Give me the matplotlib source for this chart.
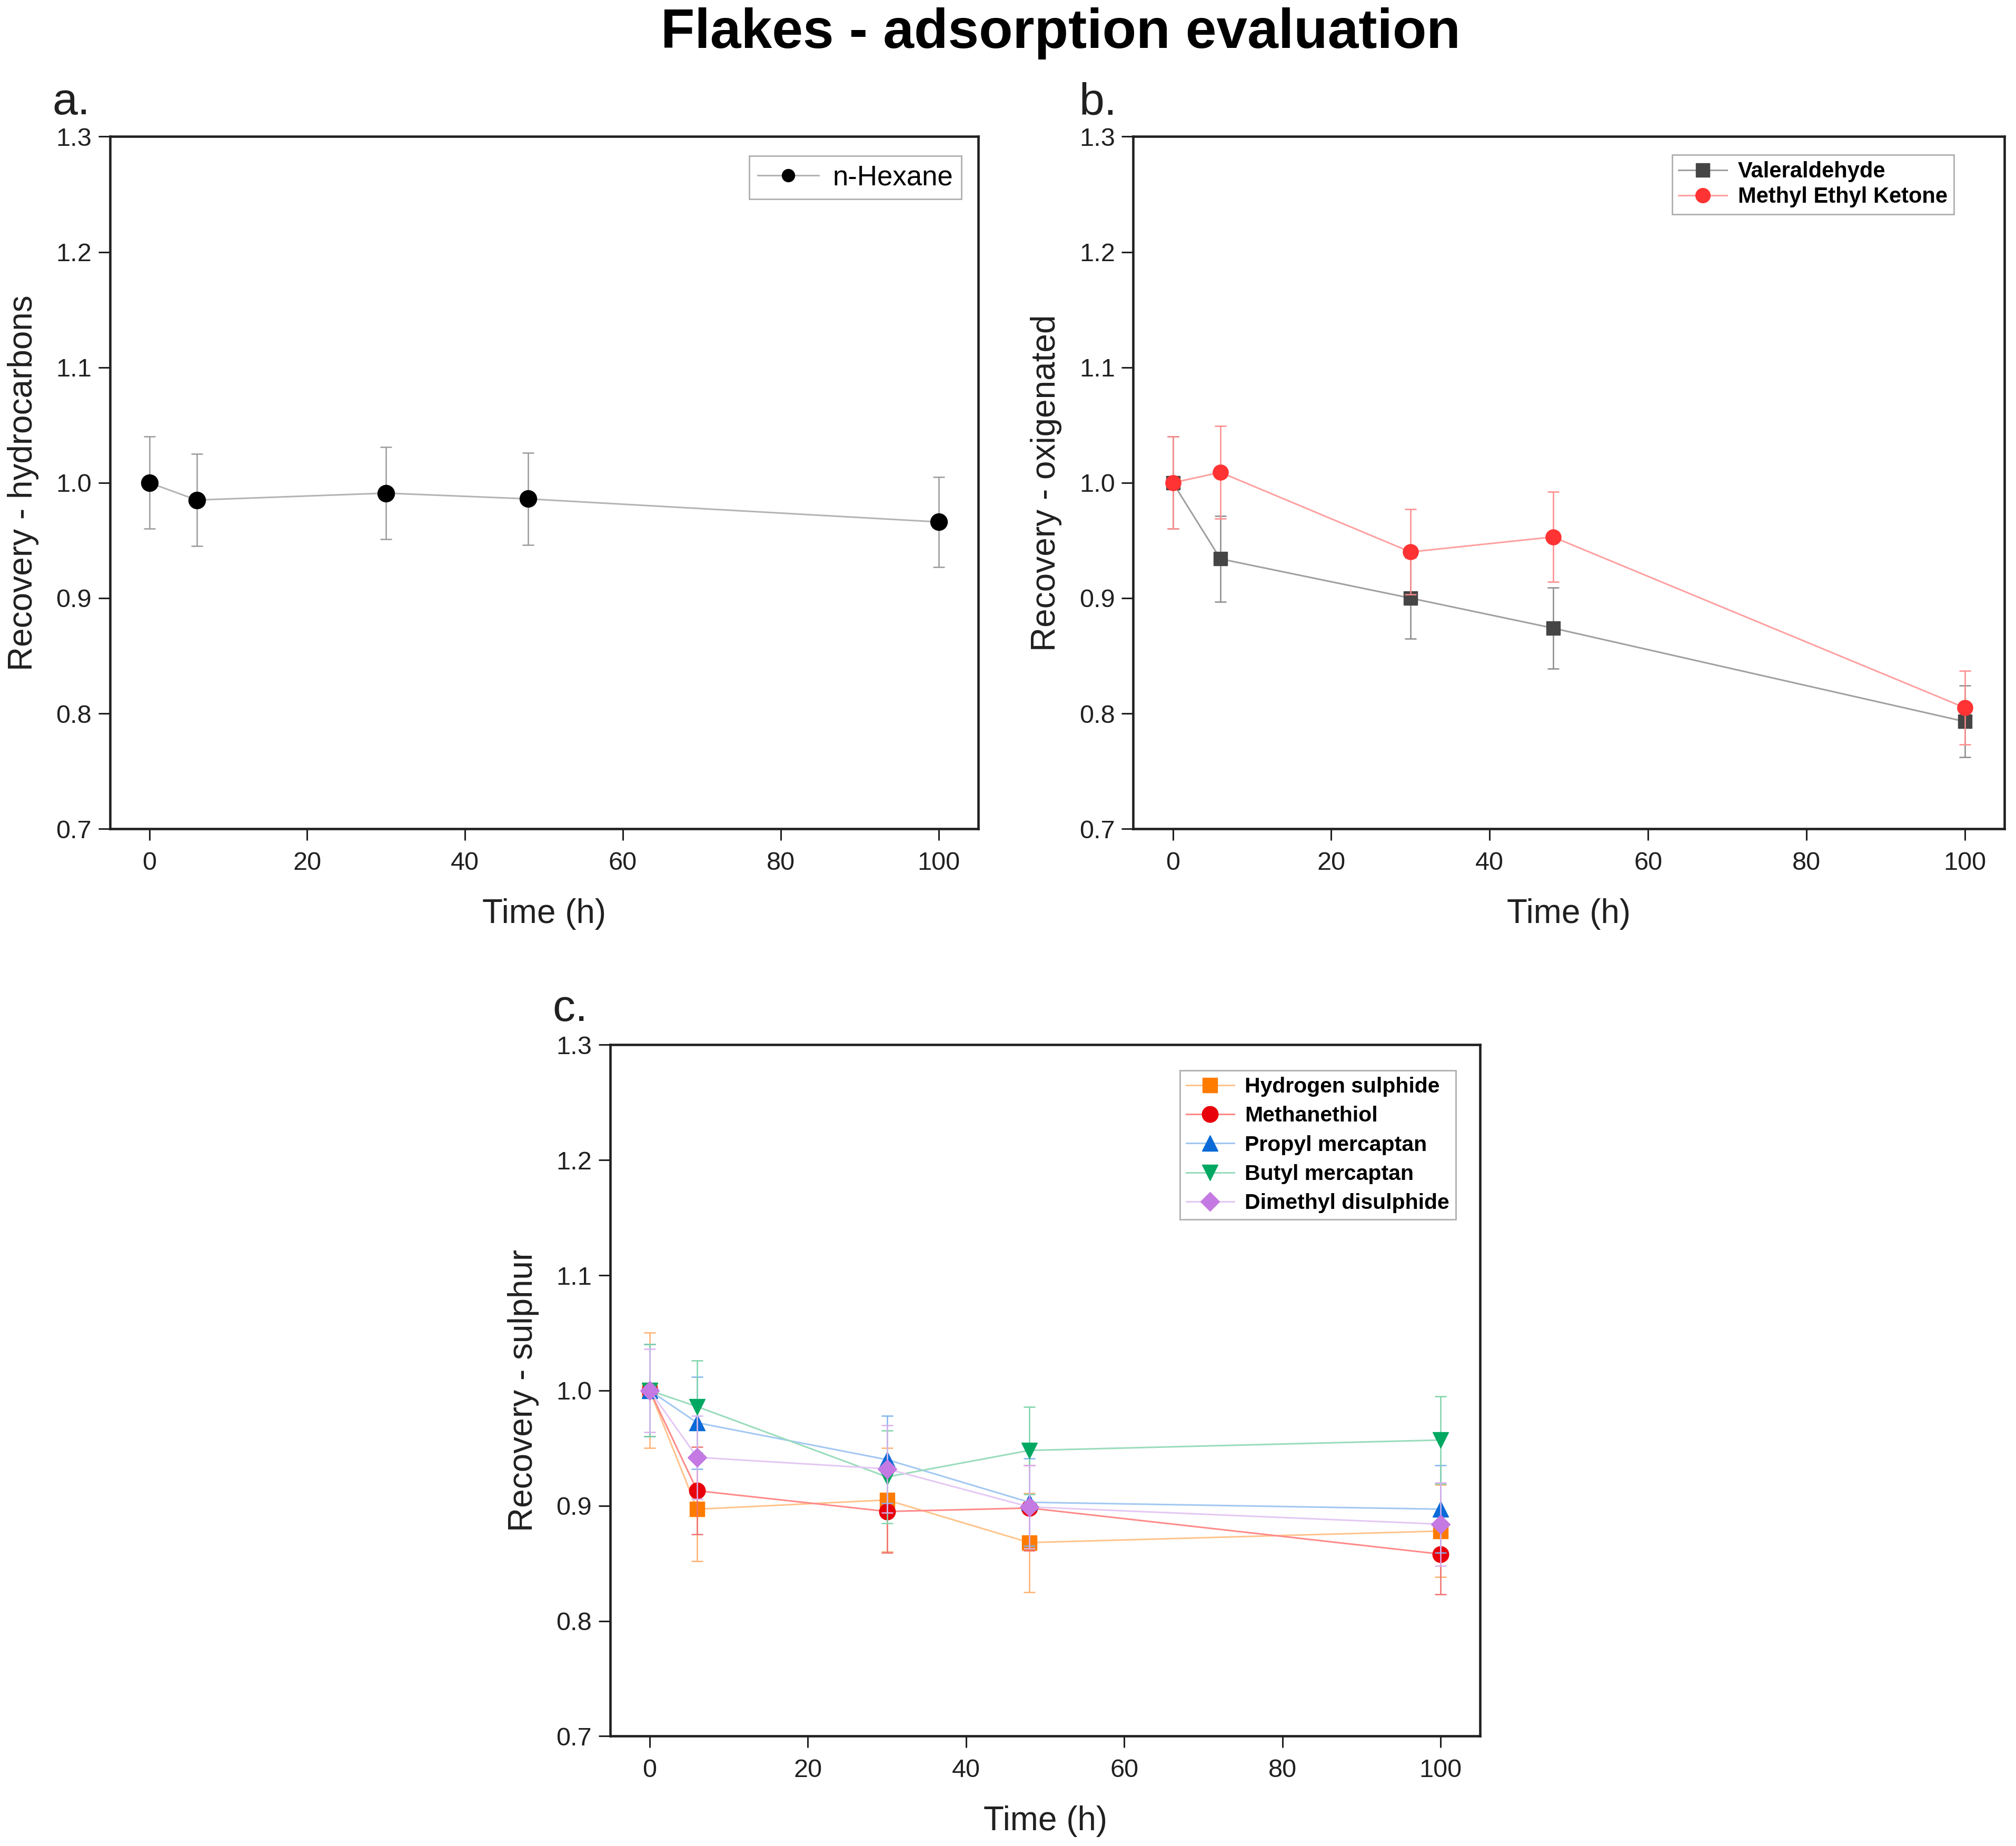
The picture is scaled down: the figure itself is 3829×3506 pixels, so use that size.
import matplotlib
matplotlib.use("Agg")
import matplotlib.pyplot as plt
from matplotlib.ticker import FormatStrFormatter

plt.rcParams['font.family'] = ['Liberation Sans', 'DejaVu Sans']

# ---------------- data ----------------
time_h = [0, 6, 30, 48, 100]

# panel a: hydrocarbons
hexane = [1.000, 0.985, 0.991, 0.986, 0.966]
hexane_err = [0.040, 0.040, 0.040, 0.040, 0.039]

# panel b: oxygenated
valeraldehyde = [1.000, 0.934, 0.900, 0.874, 0.793]
valeraldehyde_err = [0.040, 0.037, 0.035, 0.035, 0.031]
mek = [1.000, 1.009, 0.940, 0.953, 0.805]
mek_err = [0.040, 0.040, 0.037, 0.039, 0.032]

# panel c: sulphur
h2s = [1.000, 0.897, 0.905, 0.868, 0.878]
h2s_err = [0.050, 0.045, 0.045, 0.043, 0.040]
methanethiol = [1.000, 0.913, 0.895, 0.898, 0.858]
methanethiol_err = [0.040, 0.038, 0.036, 0.037, 0.035]
propyl = [1.000, 0.972, 0.940, 0.903, 0.897]
propyl_err = [0.040, 0.040, 0.038, 0.038, 0.038]
butyl = [1.000, 0.986, 0.925, 0.948, 0.957]
butyl_err = [0.040, 0.040, 0.040, 0.038, 0.038]
dmds = [1.000, 0.942, 0.932, 0.899, 0.884]
dmds_err = [0.036, 0.036, 0.038, 0.036, 0.036]

y_ticks = [0.7, 0.8, 0.9, 1.0, 1.1, 1.2, 1.3]
x_ticks = [0, 20, 40, 60, 80, 100]

# ---------------- figure ----------------
fig = plt.figure(figsize=(38.3, 35.06), dpi=100)

TICK_FS = 35
LABEL_FS = 46


def style_axes(ax, ylabel):
    ax.set_xlim(-5, 105)
    ax.set_ylim(0.7, 1.3)
    ax.set_xticks(x_ticks)
    ax.set_yticks(y_ticks)
    ax.yaxis.set_major_formatter(FormatStrFormatter('%.1f'))
    for sp in ax.spines.values():
        sp.set_linewidth(3.3)
        sp.set_color('#202020')
    ax.tick_params(axis='both', direction='out', length=16, width=2.2,
                   color='#202020', labelsize=TICK_FS, labelcolor='#202020')
    ax.tick_params(axis='y', pad=9)
    ax.tick_params(axis='x', pad=15)
    ax.set_xlabel('Time (h)', fontsize=LABEL_FS, color='#202020', va='center')
    ax.set_ylabel(ylabel, fontsize=LABEL_FS, color='#202020', va='center')
    ax.xaxis.set_label_coords(0.5, -0.123)
    ax.yaxis.set_label_coords(-0.100, 0.5)


def series(ax, y, err, marker, mcolor, lcolor, ecolor, label, ms=20, zo=3):
    ax.errorbar(time_h, y, yerr=err, fmt='none', ecolor=ecolor,
                elinewidth=1.8, capsize=8, capthick=1.8, zorder=zo)
    ax.plot(time_h, y, '-', color=lcolor, lw=2.2, zorder=zo + 0.1)
    ax.plot(time_h, y, linestyle='none', marker=marker, ms=ms,
            color=mcolor, mec=mcolor, zorder=zo + 0.2)
    # legend proxy
    return ax.plot([], [], '-', color=lcolor, lw=2.2, marker=marker, ms=ms,
                   mfc=mcolor, mec=mcolor, label=label)[0]


def legend(ax, anchor, fs, weight, ms_scale=0.8, spacing=0.15):
    leg = ax.legend(loc='upper right', bbox_to_anchor=anchor, borderaxespad=0,
                    frameon=True, fancybox=False, edgecolor='#9a9a9a',
                    prop={'size': fs, 'weight': weight}, handlelength=2.2,
                    handletextpad=0.5, borderpad=0.3, labelspacing=spacing,
                    markerscale=ms_scale)
    leg.get_frame().set_linewidth(2.0)
    return leg


# panel a
ax_a = fig.add_axes([0.0545, 0.551, 0.4305, 0.375])
style_axes(ax_a, 'Recovery - hydrocarbons')
series(ax_a, hexane, hexane_err, 'o', 'black', '#b4b4b4', '#9a9a9a',
       'n-Hexane', ms=23)
legend(ax_a, (0.981, 0.972), 38, 'normal', ms_scale=0.75, spacing=0.15)

# panel b
ax_b = fig.add_axes([0.562, 0.551, 0.432, 0.375])
style_axes(ax_b, 'Recovery - oxigenated')
series(ax_b, valeraldehyde, valeraldehyde_err, 's', '#454545', '#a0a0a0',
       '#8a8a8a', 'Valeraldehyde', ms=19, zo=3)
series(ax_b, mek, mek_err, 'o', '#ff3333', '#ffa0a0', '#ff8a8a',
       'Methyl Ethyl Ketone', ms=21, zo=4)
legend(ax_b, (0.942, 0.974), 30, 'bold', ms_scale=0.95, spacing=0.2)

# panel c
ax_c = fig.add_axes([0.3026, 0.0595, 0.4314, 0.3745])
style_axes(ax_c, 'Recovery - sulphur')
series(ax_c, h2s, h2s_err, 's', '#ff7b00', '#ffc48c', '#ffb070',
       'Hydrogen sulphide', ms=20, zo=3)
series(ax_c, methanethiol, methanethiol_err, 'o', '#e8000b', '#ff8a8a',
       '#f07070', 'Methanethiol', ms=22, zo=4)
series(ax_c, propyl, propyl_err, '^', '#0a6ad8', '#a2c8f2', '#80b4ee',
       'Propyl mercaptan', ms=22, zo=5)
series(ax_c, butyl, butyl_err, 'v', '#00a862', '#9adcbc', '#80d4aa',
       'Butyl mercaptan', ms=22, zo=6)
series(ax_c, dmds, dmds_err, 'D', '#c47ae2', '#e4c8f4', '#d8b0f0',
       'Dimethyl disulphide', ms=18, zo=7)
legend(ax_c, (0.972, 0.963), 29.5, 'bold', ms_scale=1.0, spacing=0.42)

# panel letters and title
fig.text(0.026, 0.938, 'a.', fontsize=62, color='#202020', ha='left', va='baseline')
fig.text(0.535, 0.938, 'b.', fontsize=62, color='#202020', ha='left', va='baseline')
fig.text(0.274, 0.447, 'c.', fontsize=62, color='#202020', ha='left', va='baseline')
fig.text(0.526, 0.982, 'Flakes - adsorption evaluation', fontsize=76,
         fontweight='bold', ha='center', va='center', color='black')

fig.savefig('out.png', dpi=100, facecolor='white')
